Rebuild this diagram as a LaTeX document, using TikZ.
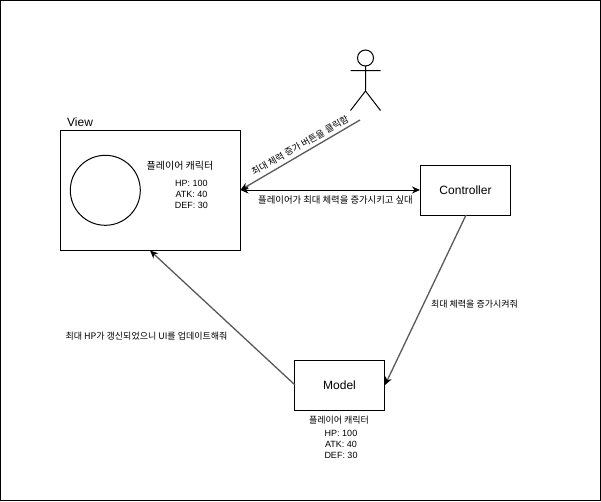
\documentclass[tikz,border=0pt]{standalone}
\usepackage{fontspec}
\setmainfont{Liberation Sans}
\newfontfamily\kr{Noto Sans CJK KR}
\usetikzlibrary{arrows.meta}
\tikzset{
  box/.style={draw=black,line width=1pt,fill=white,inner sep=0pt,font=\fontsize{12}{14}\selectfont},
  conn/.style={draw=black!65,line width=1.3pt},
  tip/.style={-{Stealth[length=8pt,width=7pt,color=black]}},
  lbl/.style={inner sep=0pt,align=center,font=\fontsize{9}{11}\selectfont\kr},
  stat/.style={inner sep=0pt,align=center,font=\fontsize{9}{11}\selectfont},
  stick/.style={draw=black,line width=1pt}
}
\begin{document}
\begin{tikzpicture}[x=1pt,y=-1pt]
\useasboundingbox (0,0) rectangle (601,501);
\draw[black,line width=1pt] (0.5,0.5) rectangle (600.5,500.5);
% boxes
\node[box,minimum width=180pt,minimum height=120pt] (view) at (150,190) {};
\node[anchor=south west,inner sep=0pt,font=\fontsize{12}{14}\selectfont] (viewlbl) at (67,127) {View};
\node[box,minimum width=90pt,minimum height=50pt] (ctrl) at (465.5,190) {Controller};
\node[box,minimum width=90pt,minimum height=50pt] (model) at (339.5,385) {Model};
\node[draw=black,line width=1pt,circle,minimum size=70pt,inner sep=0pt] (face) at (105.3,190.3) {};
% actor
\node[draw=black,line width=1pt,circle,minimum size=16pt,inner sep=0pt] (head) at (365.5,58) {};
\coordinate (neck) at (365.5,66);
\coordinate (hip) at (365.5,91);
\coordinate (armL) at (350.5,70.5);
\coordinate (armR) at (380.5,70.5);
\coordinate (legL) at (350.5,110.5);
\coordinate (legR) at (380.5,110.5);
\coordinate (actorout) at (360,120);
\draw[stick] (neck) -- (hip) (armL) -- (armR) (hip) -- (legL) (hip) -- (legR);
% connectors
\coordinate (vr) at (240.5,190);
\draw[conn,tip] (actorout) -- (vr);
\draw[black,line width=1pt,{Stealth[length=8pt,width=7pt]}-{Stealth[length=8pt,width=7pt]}] (vr) -- (ctrl.west);
\coordinate (cb) at (466,215);
\coordinate (ml) at (385,385);
\draw[conn,tip] (cb) -- (ml);
\coordinate (mlup) at (295,385);
\coordinate (vb) at (150,250.5);
\draw[conn,tip] (mlup) -- (vb);
% labels
\node[lbl,font=\fontsize{10}{12}\selectfont\kr] (n1) at (180,165.5) {플레이어 캐릭터};
\node[stat] (s1) at (191.5,194.5) {HP: 100\\ATK: 40\\DEF: 30};
\node[lbl,rotate=29.5,font=\fontsize{9.2}{11}\selectfont\kr] (n2) at (300,145.5) {최대 체력 증가 버튼을 클릭함};
\node[lbl,font=\fontsize{9.35}{11}\selectfont\kr] (n3) at (335.5,200) {플레이어가 최대 체력을 증가시키고 싶대};
\node[lbl] (n4) at (474.5,304) {최대 체력을 증가시켜줘};
\node[lbl] (n5) at (146.5,336) {최대 HP가 갱신되었으니 UI를 업데이트해줘};
\node[lbl] (n6) at (339,420) {플레이어 캐릭터};
\node[stat] (s2) at (341,444.5) {HP: 100\\ATK: 40\\DEF: 30};
\end{tikzpicture}
\end{document}
